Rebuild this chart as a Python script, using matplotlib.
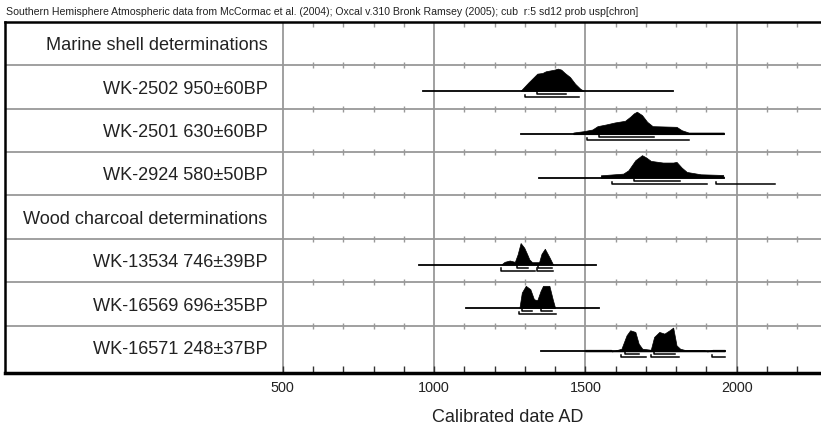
import matplotlib
matplotlib.use("Agg")
import matplotlib.pyplot as plt
import numpy as np

plt.rcParams['font.family'] = ['Liberation Sans', 'DejaVu Sans']

title = ("Southern Hemisphere Atmospheric data from McCormac et al. (2004); "
         "Oxcal v.310 Bronk Ramsey (2005); cub  r:5 sd12 prob usp[chron]")
row_labels = ["Marine shell determinations",
              "WK-2502 950\u00b160BP",
              "WK-2501 630\u00b160BP",
              "WK-2924 580\u00b150BP",
              "Wood charcoal determinations",
              "WK-13534 746\u00b139BP",
              "WK-16569 696\u00b135BP",
              "WK-16571 248\u00b137BP"]

# probability distributions (calendar year AD, relative height)
wk2502_x = [1286, 1312, 1341, 1358, 1369, 1398, 1409, 1420, 1432, 1449, 1466, 1483, 1494]
wk2502_h = [0, 25, 51, 53, 58, 63, 66, 63, 53, 41, 21, 6, 0]
wk2501_x = [1460, 1460, 1494, 1523, 1540, 1568, 1597, 1631, 1648, 1660, 1670, 1687, 1704, 1722, 1801, 1818, 1841, 1957, 1957]
wk2501_h = [0, 5, 9, 14, 24, 29, 35, 40, 52, 62, 67, 57, 37, 24, 22, 12, 5, 5, 0]
wk2924_x = [1551, 1551, 1625, 1642, 1665, 1687, 1701, 1716, 1756, 1790, 1801, 1818, 1835, 1881, 1955, 1957]
wk2924_h = [0, 7, 12, 22, 52, 67, 60, 50, 45, 45, 47, 30, 17, 10, 8, 0]
wk13534_x = [1222, 1233, 1250, 1267, 1276, 1286, 1298, 1307, 1315, 1324, 1347, 1355, 1366, 1381, 1392, 1394]
wk13534_h = [0, 8, 12, 8, 30, 64, 50, 32, 15, 7, 7, 32, 47, 22, 2, 0]
wk16569_x = [1282, 1290, 1303, 1318, 1330, 1341, 1352, 1360, 1381, 1392, 1400]
wk16569_h = [0, 46, 66, 56, 26, 23, 51, 66, 66, 26, 0]
wk16571_x = [1500, 1500, 1585, 1588, 1619, 1636, 1648, 1665, 1676, 1688, 1716, 1727, 1744, 1761, 1778, 1790,
             1801, 1813, 1830, 1892, 1903, 1920, 1960, 1960]
wk16571_h = [0, 5, 5, 0, 8, 48, 63, 58, 23, 8, 5, 43, 58, 53, 63, 71,
             18, 8, 4, 4, 0, 5, 5, 0]

# full span line, 68% ranges, 95% ranges
spans = {1: (964, 1790), 2: (1286, 1957), 3: (1347, 1957),
         5: (949, 1534), 6: (1104, 1545), 7: (1352, 1960)}
r68 = {1: [(1341, 1437)], 2: [(1545, 1727)], 3: [(1659, 1813)],
       5: [(1273, 1312), (1344, 1390)], 6: [(1290, 1324), (1352, 1390)],
       7: [(1631, 1676), (1727, 1795)]}
r95 = {1: [(1300, 1478)], 2: [(1506, 1841)], 3: [(1588, 1901), (1930, 2127)],
       5: [(1222, 1333), (1341, 1394)], 6: [(1281, 1403)],
       7: [(1617, 1699), (1718, 1810), (1918, 1960)]}
dists = {1: (wk2502_x, wk2502_h), 2: (wk2501_x, wk2501_h), 3: (wk2924_x, wk2924_h),
         5: (wk13534_x, wk13534_h), 6: (wk16569_x, wk16569_h), 7: (wk16571_x, wk16571_h)}

major = [500, 1000, 1500, 2000]
minor = [y for y in range(600, 2300, 100) if y % 500 != 0]

fig = plt.figure(figsize=(8.21, 4.28), dpi=100)
ppy = 0.3027  # pixels per year
ax = fig.add_axes([5 / 821, (428 - 372.7) / 428, 816 / 821, 351 / 428])
ax.set_xlim(500 - 277.7 / ppy, 500 + 538.3 / ppy)
ax.set_ylim(8.08, 0)

grey = '#999999'
for m in major:
    ax.axvline(m, color=grey, lw=1.3, zorder=1)
for r in range(1, 8):
    ax.axhline(r, color=grey, lw=1.3, zorder=1)
    ax.plot(minor, [r] * len(minor), ls='none', marker='|', ms=5, mew=1, color=grey, zorder=1)
ax.plot(minor, [0.05] * len(minor), ls='none', marker='|', ms=5, mew=1, color=grey, zorder=1)

base = 0.59
scale = 0.51 / 66
for r, (xs, hs) in dists.items():
    b = r + base
    ax.fill_between(xs, b, b - np.array(hs) * scale, color='black', lw=0.5, zorder=3)
    ax.plot(spans[r], [b, b], color='black', lw=1.3, zorder=3)
    for lo, hi in r68[r]:
        y = b + 0.07
        ax.plot([lo, lo, hi], [y - 0.05, y, y], color='black', lw=1.1, zorder=3)
    for lo, hi in r95[r]:
        y = b + 0.14
        ax.plot([lo, lo, hi], [y - 0.05, y, y], color='black', lw=1.1, zorder=3)

label_x = 500 - 15 / ppy
for i, lab in enumerate(row_labels):
    ax.text(label_x, i + 0.55, lab, ha='right', va='center', fontsize=13.1, color='#222222')

ax.set_yticks([])
ax.set_xticks(major)
ax.set_xticks(minor, minor=True)
ax.tick_params(axis='x', which='both', direction='in', length=5, width=1, color='#333333',
               pad=6, labelsize=10.4, labelcolor='#222222')
ax.spines['right'].set_visible(False)
ax.spines['bottom'].set_linewidth(2.5)
ax.spines['left'].set_linewidth(1.8)
ax.spines['top'].set_linewidth(1.8)

fig.text(507.5 / 821, 1 - 418 / 428, "Calibrated date AD", ha='center', va='center', fontsize=13, color='#222222')
fig.text(6 / 821, 1 - 12 / 428, title, ha='left', va='center', fontsize=7.6,
         family=['Liberation Sans Narrow', 'Liberation Sans'], color='#222222')

fig.savefig('out.png', dpi=100)
